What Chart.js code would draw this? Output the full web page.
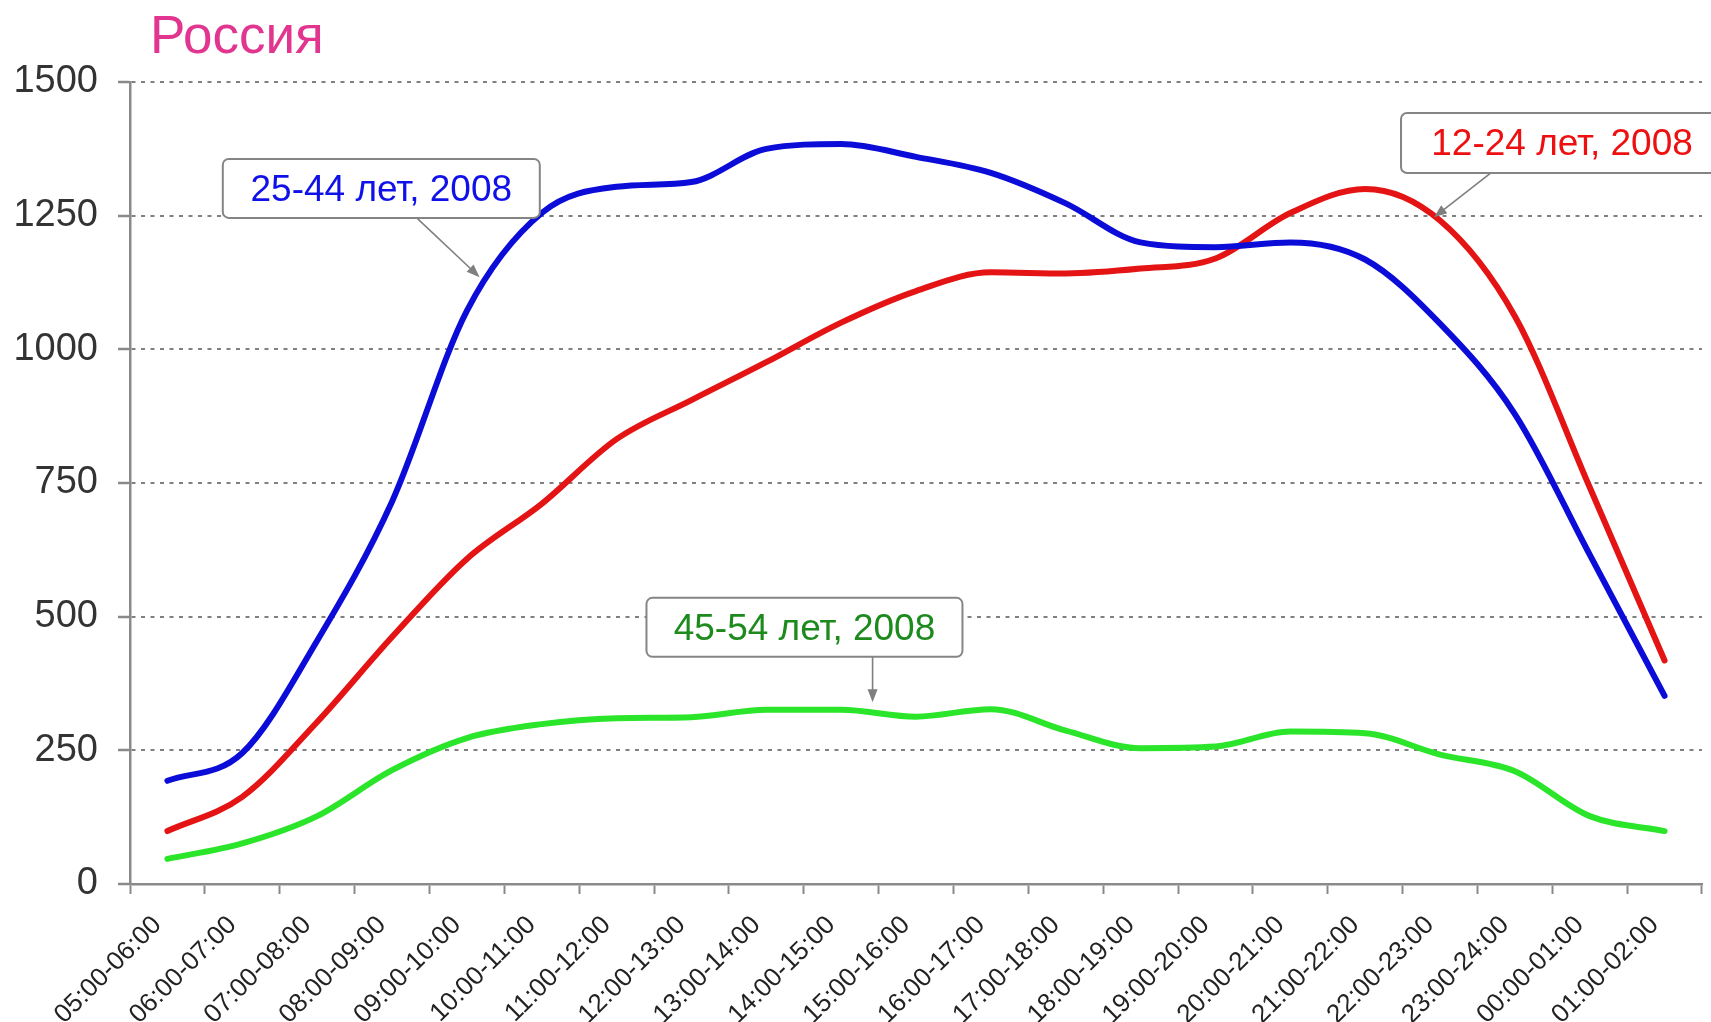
<!DOCTYPE html>
<html>
<head>
<meta charset="utf-8">
<script src="https://cdn.jsdelivr.net/npm/chart.js@4.4.1/dist/chart.umd.min.js"></script>
<style>
  html, body { margin: 0; padding: 0; background: #ffffff; }
  #wrap { position: relative; width: 1711px; height: 1022px; }
</style>
</head>
<body>
<div id="wrap"><canvas id="c" width="1711" height="1022"></canvas></div>
<script>
// ---- data ----
const timeLabels = [
  '05:00-06:00', '06:00-07:00', '07:00-08:00', '08:00-09:00', '09:00-10:00',
  '10:00-11:00', '11:00-12:00', '12:00-13:00', '13:00-14:00', '14:00-15:00',
  '15:00-16:00', '16:00-17:00', '17:00-18:00', '18:00-19:00', '19:00-20:00',
  '20:00-21:00', '21:00-22:00', '22:00-23:00', '23:00-24:00', '00:00-01:00',
  '01:00-02:00'
];
const age25_44 = [193, 245, 455, 715, 1072, 1255, 1304, 1313, 1375, 1384, 1360, 1330, 1273, 1200, 1191, 1200, 1168, 1048, 879, 616, 352];
const age12_24 = [99, 163, 303, 462, 608, 711, 832, 905, 976, 1050, 1109, 1144, 1142, 1151, 1170, 1255, 1300, 1241, 1062, 742, 418];
const age45_54 = [47, 76, 127, 213, 273, 299, 310, 312, 326, 326, 313, 327, 287, 254, 257, 285, 282, 242, 211, 127, 99];
const seriesNames = ['25-44 лет, 2008', '12-24 лет, 2008', '45-54 лет, 2008'];
const yTicks = [0, 250, 500, 750, 1000, 1250, 1500];
const chartTitle = 'Россия';

// ---- callouts (positions in data space: category index, value) ----
const callouts = [
  { text: seriesNames[0], color: '#1010e8', box: [2.857, 1301], w: 317, h: 59, from: [3.33, 1246], to: [4.17, 1135] },
  { text: seriesNames[1], color: '#ee1010', box: [18.63, 1386], w: 322, h: 60, from: [17.68, 1330], to: [16.92, 1247] },
  { text: seriesNames[2], color: '#1c8a1c', box: [8.51, 480], w: 316, h: 59, from: [9.42, 425], to: [9.42, 340] }
];

const FONT = "'Liberation Sans', Arial, sans-serif";
Chart.defaults.font.family = FONT;

const calloutPlugin = {
  id: 'callouts',
  afterDatasetsDraw(chart) {
    const ctx = chart.ctx, xs = chart.scales.x, ys = chart.scales.y;
    callouts.forEach(c => {
      const bx = xs.getPixelForValue(c.box[0]), by = ys.getPixelForValue(c.box[1]);
      const fx = xs.getPixelForValue(c.from[0]), fy = ys.getPixelForValue(c.from[1]);
      const tx = xs.getPixelForValue(c.to[0]), ty = ys.getPixelForValue(c.to[1]);
      ctx.save();
      ctx.strokeStyle = '#7f7f7f'; ctx.fillStyle = '#7f7f7f'; ctx.lineWidth = 1.6;
      const ang = Math.atan2(ty - fy, tx - fx);
      const hl = 13, hw = 5;
      ctx.beginPath(); ctx.moveTo(fx, fy);
      ctx.lineTo(tx - Math.cos(ang) * hl * 0.8, ty - Math.sin(ang) * hl * 0.8); ctx.stroke();
      ctx.beginPath();
      ctx.moveTo(tx, ty);
      ctx.lineTo(tx - Math.cos(ang) * hl + Math.sin(ang) * hw, ty - Math.sin(ang) * hl - Math.cos(ang) * hw);
      ctx.lineTo(tx - Math.cos(ang) * hl - Math.sin(ang) * hw, ty - Math.sin(ang) * hl + Math.cos(ang) * hw);
      ctx.closePath(); ctx.fill();
      const x0 = bx - c.w / 2, y0 = by - c.h / 2, r = 6;
      ctx.beginPath();
      ctx.moveTo(x0 + r, y0); ctx.lineTo(x0 + c.w - r, y0); ctx.arcTo(x0 + c.w, y0, x0 + c.w, y0 + r, r);
      ctx.lineTo(x0 + c.w, y0 + c.h - r); ctx.arcTo(x0 + c.w, y0 + c.h, x0 + c.w - r, y0 + c.h, r);
      ctx.lineTo(x0 + r, y0 + c.h); ctx.arcTo(x0, y0 + c.h, x0, y0 + c.h - r, r);
      ctx.lineTo(x0, y0 + r); ctx.arcTo(x0, y0, x0 + r, y0, r); ctx.closePath();
      ctx.fillStyle = '#ffffff'; ctx.fill();
      ctx.lineWidth = 2; ctx.strokeStyle = '#858585'; ctx.stroke();
      ctx.fillStyle = c.color; ctx.font = '37px ' + FONT;
      ctx.textAlign = 'center'; ctx.textBaseline = 'middle';
      ctx.fillText(c.text, bx, by + 2);
      ctx.restore();
    });
  }
};

const titlePlugin = {
  id: 'customTitle',
  afterDraw(chart) {
    const ctx = chart.ctx;
    ctx.save();
    ctx.fillStyle = '#e2358f';
    ctx.font = '53px ' + FONT;
    ctx.textAlign = 'left'; ctx.textBaseline = 'alphabetic';
    ctx.fillText(chartTitle, 150, 53);
    ctx.restore();
  }
};

const lineStyle = (color) => ({
  borderColor: color, backgroundColor: color, borderWidth: 6,
  pointRadius: 0, pointHoverRadius: 0, fill: false,
  cubicInterpolationMode: 'monotone', borderCapStyle: 'round', borderJoinStyle: 'round'
});

new Chart(document.getElementById('c'), {
  type: 'line',
  data: {
    labels: timeLabels,
    datasets: [
      Object.assign({ label: seriesNames[2], data: age45_54 }, lineStyle('#2ae52a')),
      Object.assign({ label: seriesNames[0], data: age25_44 }, lineStyle('#0c0cd8')),
      Object.assign({ label: seriesNames[1], data: age12_24 }, lineStyle('#e51414'))
    ]
  },
  options: {
    responsive: false,
    animation: false,
    layout: { padding: { top: 82, right: 9, left: 0, bottom: 0 } },
    plugins: { legend: { display: false }, tooltip: { enabled: false }, title: { display: false } },
    scales: {
      x: {
        type: 'category',
        offset: true,
        grid: { offset: true, drawOnChartArea: false, drawTicks: true, tickLength: 10, tickWidth: 2, tickColor: '#8a8a8a' },
        border: { color: '#8a8a8a', width: 2.5 },
        ticks: { autoSkip: false, minRotation: 45, maxRotation: 45, padding: 16, labelOffset: -10, color: '#222222', font: { size: 26 } },
        afterFit(s) { s.height = 138; }
      },
      y: {
        min: 0, max: 1500,
        afterBuildTicks(s) { s.ticks = yTicks.map(v => ({ value: v })); },
        ticks: { padding: 20, color: '#333333', font: { size: 38 }, callback: (v) => String(v) },
        grid: { color: '#808080', lineWidth: 2, drawTicks: true, tickLength: 12, tickWidth: 2.5, tickColor: '#8a8a8a', tickBorderDash: [] },
        border: { color: '#8a8a8a', width: 2.5, dash: [4, 5.5] },
        afterFit(s) { s.width = 130; }
      }
    }
  },
  plugins: [calloutPlugin, titlePlugin]
});
</script>
</body>
</html>
